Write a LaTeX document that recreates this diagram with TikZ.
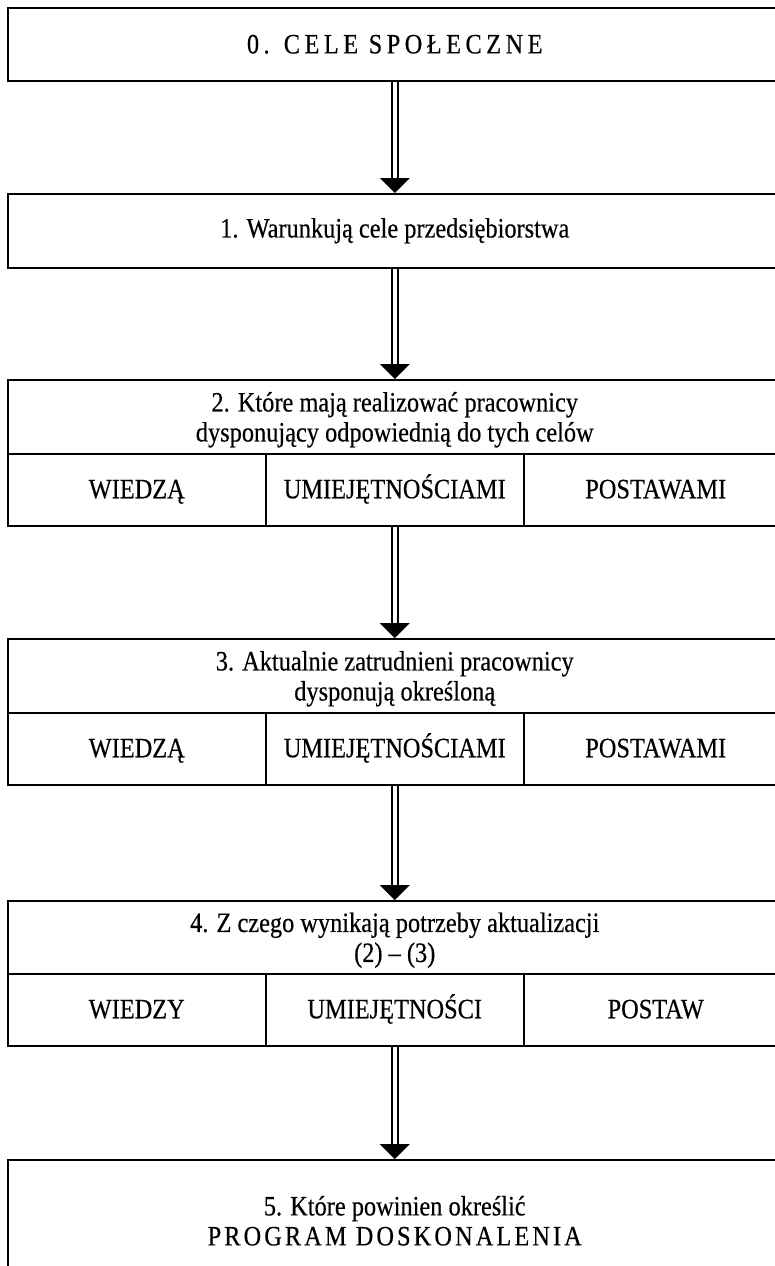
\documentclass[tikz,border=0pt]{standalone}
\usepackage{fontspec}
\setmainfont[FakeStretch=0.87, FakeBold=0.4]{Liberation Serif}
\usetikzlibrary{calc}
\tikzset{
  box/.style={draw, line width=1.5pt, anchor=north west, minimum width=774pt,
    inner sep=0pt, align=center, font=\fontsize{28}{30}\selectfont},
  cell/.style={draw, line width=1.5pt, anchor=north west, minimum height=72pt,
    inner sep=0pt, text height=19pt, text depth=2pt, font=\fontsize{28}{30}\selectfont},
  pipe/.style={draw, line width=1.5pt, double distance=4.5pt},
}
\newcommand{\spaced}[2][16]{{\addfontfeature{LetterSpace=#1}#2}}
\begin{document}
\begin{tikzpicture}[x=1pt,y=-1pt]
\useasboundingbox (0,0) rectangle (774,1266);
\node[box, minimum height=73pt] (b0) at (7,7) {\spaced{0. CELE SPOŁECZNE}};
\node[box, minimum height=74pt] (b1) at (7,193) {1. Warunkują cele przedsiębiorstwa};
\node[box, minimum height=74pt, text depth=0pt] (b2) at (7,379) {2. Które mają realizować pracownicy\\dysponujący odpowiednią do tych celów};
\node[box, minimum height=74pt, text depth=0pt] (b3) at (7,638) {3. Aktualnie zatrudnieni pracownicy\\dysponują określoną};
\node[box, minimum height=73pt, text depth=0pt] (b4) at (7,900) {4. Z czego wynikają potrzeby aktualizacji\\(2) -- (3)};
\node[box, minimum height=122pt] (b5) at (7,1159) {5. Które powinien określić\\\spaced[11]{PROGRAM DOSKONALENIA}};
% rows of three cells
\foreach \n/\y/\a/\b/\c in {2/453/WIEDZĄ/UMIEJĘTNOŚCIAMI/POSTAWAMI,
    3/712/WIEDZĄ/UMIEJĘTNOŚCIAMI/POSTAWAMI,
    4/973/WIEDZY/UMIEJĘTNOŚCI/POSTAW} {
  \node[cell, minimum width=258pt] (w\n) at (7,\y) {\a};
  \node[cell, minimum width=258pt] (u\n) at (265,\y) {\b};
  \node[cell, minimum width=264pt] (p\n) at (523,\y) {\c};
}
% arrows
\foreach \s/\t in {b0/b1, b1/b2, u2/b3, u3/b4, u4/b5} {
  \draw[pipe] (\s.south) -- ($(\s.south |- \t.north)+(0,-12)$);
  \fill (\s.south |- \t.north) -- ++(-15,-15) -- ++(30,0) -- cycle;
}
\end{tikzpicture}
\end{document}
